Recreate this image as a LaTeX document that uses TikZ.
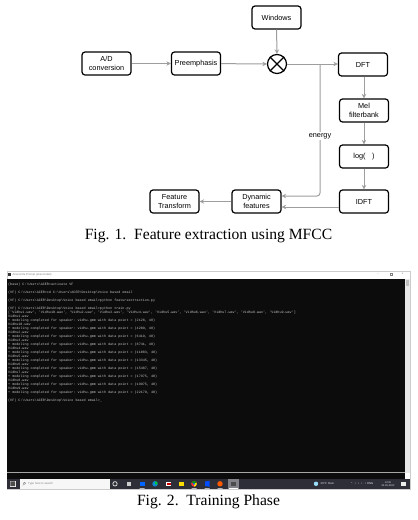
\documentclass[tikz,border=0pt]{standalone}
\usepackage{fontspec}
\setmainfont{Liberation Serif}
\setsansfont{Liberation Sans}
\setmonofont{Liberation Mono}
\usetikzlibrary{arrows.meta}
\definecolor{arrgray}{RGB}{158,158,158}
\definecolor{termbg}{RGB}{12,12,12}
\definecolor{termtxt}{RGB}{196,196,196}
\definecolor{tbar}{RGB}{46,46,56}
\definecolor{scrl}{RGB}{232,232,232}
\newcommand\bsl{\textbackslash}
\newcommand\mdl[1]{+ modeling completed for speaker: vidhu.gmm  with data point =  (#1, 40)}
\begin{document}
\begin{tikzpicture}[x=1pt,y=-1pt,
  blk/.style={draw, line width=1.2pt, rounded corners=3pt, minimum width=49pt,
    minimum height=23pt, align=center, inner sep=1pt,
    font=\sffamily\fontsize{7.3}{8.6}\selectfont},
  conn/.style={draw=arrgray, line width=1pt, -{Stealth[length=4.5pt,width=4.5pt]}},
  figcap/.style={font=\fontsize{15.6}{18}\selectfont, inner sep=0pt},
  tiny/.style={font=\sffamily\fontsize{2.8}{3}\selectfont, inner sep=0pt}]
\useasboundingbox (0,0) rectangle (418,520);
\fill[white] (0,0) rectangle (418,520);

% ---------- Fig. 1 ----------
\node[blk] (win)  at (276.5,17.5) {Windows};
\node[blk] (ad)   at (106.5,63.5) {A/D\\conversion};
\node[blk] (pre)  at (196,63.5)   {Preemphasis};
\node[draw, circle, line width=1.2pt, minimum size=19pt, inner sep=0pt] (mul) at (277,64) {};
\draw[line width=1.2pt] (mul.north west) -- (mul.south east) (mul.north east) -- (mul.south west);
\node[blk] (dft)  at (363,64.5)  {DFT};
\node[blk] (mel)  at (364,110.5) {Mel\\filterbank};
\node[blk] (log)  at (364,156.5) {log(\hspace{0.9em})};
\node[blk] (idft) at (364,201.5) {IDFT};
\node[blk] (dyn)  at (256.5,201.5) {Dynamic\\features};
\node[blk] (ft)   at (174.5,201.5) {Feature\\Transform};

\draw[conn] (ad) -- (pre);
\draw[conn] (pre) -- (mul);
\draw[conn] (win) -- (mul);
\draw[conn] (mul.east) -- (mul.east -| dft.west);
\draw[conn] (dft.south -| mel.north) -- (mel.north);
\draw[conn] (mel) -- (log);
\draw[conn] (log) -- (idft);
\coordinate (ej) at (320,64);
\draw[conn, rounded corners=3pt] (ej) -- (ej |- 0,196) -- ([yshift=5.5pt]dyn.east);
\draw[conn] ([yshift=-5.5pt]idft.west) -- ([yshift=-5.5pt]dyn.east);
\draw[conn] (dyn) -- (ft);
\node[fill=white, inner sep=1pt, font=\sffamily\fontsize{7.3}{8}\selectfont] (en) at (320,136) {energy};

\node[figcap] (cap1) at (208.5,236.5) {Fig. 1.\ \ Feature extraction using MFCC};

% ---------- Fig. 2 (screenshot) ----------
\fill[white] (7,271) rectangle (410,278.5);
\draw[gray!40, line width=0.3pt] (7,271) rectangle (410,489);
\fill[black!80] (8,273) rectangle (11,276);
\node[tiny, anchor=west, text=gray] (ttl) at (12.5,274.6) {Anaconda Prompt (anaconda3)};
\node[tiny, text=gray] (wmin) at (378,274) {--};
\draw[gray, line width=0.3pt] (389.8,273) rectangle (392,275.2);
\node[tiny, text=gray] (wcl) at (402.5,274) {x};

\fill[termbg] (7,278.5) rectangle (405,478.5);
\fill[scrl] (405,278.5) rectangle (410,472.5);
\fill[black!25] (405.6,279.5) rectangle (409.4,286);
\draw[gray!70, line width=0.6pt] (7,472.5) -- (405,472.5);

\node[anchor=north west, align=left, inner sep=0pt, text=termtxt,
  font=\ttfamily\fontsize{3.4}{4}\selectfont] (term) at (8,282.6) {%
(base) C:\bsl Users\bsl ACER>activate VF\\[4pt]
(VF) C:\bsl Users\bsl ACER>cd C:\bsl Users\bsl ACER\bsl Desktop\bsl Voice based email\\[4pt]
(VF) C:\bsl Users\bsl ACER\bsl Desktop\bsl Voice based email>python featureextraction.py\\[4pt]
(VF) C:\bsl Users\bsl ACER\bsl Desktop\bsl Voice based email>python train.py\\
{[}'Vidhu1.wav', 'Vidhu10.wav', 'Vidhu2.wav', 'Vidhu3.wav', 'Vidhu4.wav', 'Vidhu5.wav', 'Vidhu6.wav', 'Vidhu7.wav', 'Vidhu8.wav', 'Vidhu9.wav'{]}\\
Vidhu1.wav\\ \mdl{2128}\\
Vidhu10.wav\\ \mdl{4209}\\
Vidhu2.wav\\ \mdl{6419}\\
Vidhu3.wav\\ \mdl{8741}\\
Vidhu4.wav\\ \mdl{11083}\\
Vidhu5.wav\\ \mdl{13345}\\
Vidhu6.wav\\ \mdl{15487}\\
Vidhu7.wav\\ \mdl{17975}\\
Vidhu8.wav\\ \mdl{19975}\\
Vidhu9.wav\\ \mdl{22179}\\[4pt]
(VF) C:\bsl Users\bsl ACER\bsl Desktop\bsl Voice based email>\_};

% taskbar
\fill[tbar] (7,478.5) rectangle (410,489);
\fill[white!90!gray] (10,481) rectangle (15.5,486.5);
\fill[black!70] (10.4,481.4) rectangle (12.6,483.6) (12.9,481.4) rectangle (15.1,483.6)
  (10.4,483.9) rectangle (12.6,486.1) (12.9,483.9) rectangle (15.1,486.1);
\fill[white!94!gray] (20,479) rectangle (110,489);
\draw[gray, line width=0.4pt] (24.5,483.3) circle (1.1pt) (23.6,484.4) -- (22.8,485.4);
\node[tiny, anchor=west, text=gray] (srch) at (28,483.8) {Type here to search};
\draw[white!80!gray, line width=0.7pt] (115,483.8) circle (2.2pt);
\fill[white!60!gray] (126.5,482) rectangle (130.5,485.6);
\fill[blue!60!cyan] (139.5,481.8) rectangle (144.5,485.8);
\fill[cyan!70!blue] (155,483.8) circle (2.7pt);
\fill[green!60!teal] (155,483.8) ++(-90:2.7) arc (-90:20:2.7) -- (155,483.8) -- cycle;
\fill[white] (165.5,481.5) rectangle (170.5,486);
\fill[red!80!black] (167,482.5) rectangle (170.5,485);
\fill[yellow!80!orange] (178.5,481.5) rectangle (183.5,486);
\fill[red!80] (194,483.8) circle (2.8pt);
\fill[yellow!90!orange] (194,483.8) -- ++(-30:2.8) arc (-30:90:2.8) -- cycle;
\fill[green!60!black] (194,483.8) -- ++(210:2.8) arc (210:330:2.8) -- cycle;
\fill[blue!60!cyan] (194,483.8) circle (1.1pt);
\fill[blue!70!cyan] (205,481.5) -- (209.5,480.8) -- (209.5,486.8) -- (205,486) -- cycle;
\fill[orange!70!red] (220,483.8) circle (2.7pt);
\fill[white!40!tbar] (228,479) rectangle (239,489);
\fill[black!70] (231,482) rectangle (236,485.5);
\fill[white!70] (229,488.3) rectangle (238,488.9);
\fill[white!70] (139.5,488.3) rectangle (144.5,488.9) (191.5,488.3) rectangle (196.5,488.9)
  (204.5,488.3) rectangle (209.5,488.9) (217.5,488.3) rectangle (222.5,488.9);
\fill[cyan!40!white] (316,483.8) circle (2.2pt);
\node[tiny, anchor=west, text=white!80!gray] (wth) at (320.5,483.8) {28°C\, Rain};
\node[tiny, anchor=west, text=white!80!gray] (tray) at (351,483.8) {\^{}\ \ \ \textbullet\ \ \ \textbullet\ \ \ \textbullet\ \ \ \textbullet\ \ ENG};
\node[tiny, align=center, text=white!80!gray, font=\sffamily\fontsize{2.5}{3}\selectfont] (clk) at (388,483.8) {12:00\\20-05-2022};
\fill[white!85!gray] (401,481.5) rectangle (405.5,486);

\node[figcap] (cap2) at (208.5,501.5) {Fig. 2.\ \ Training Phase};
\end{tikzpicture}
\end{document}
